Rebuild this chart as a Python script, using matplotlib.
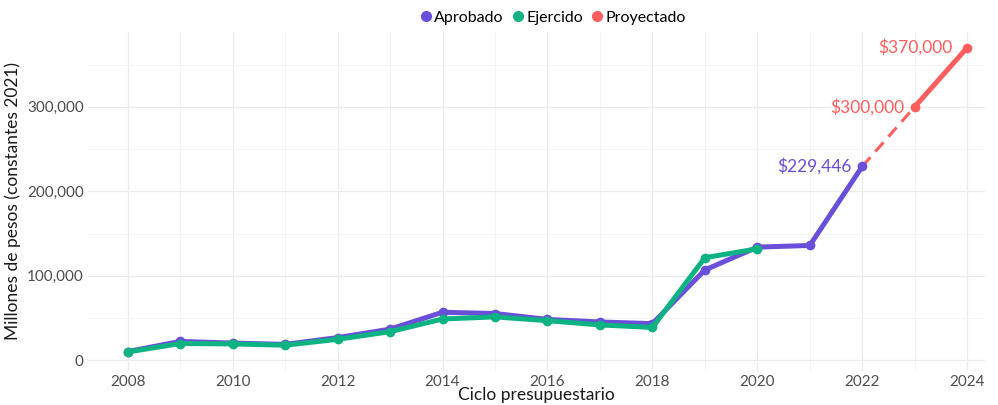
import matplotlib.pyplot as plt
from matplotlib.ticker import FuncFormatter, MultipleLocator

plt.rcParams['font.family'] = ['Lato', 'DejaVu Sans']

years = [2008, 2009, 2010, 2011, 2012, 2013, 2014, 2015, 2016, 2017, 2018, 2019, 2020, 2021, 2022]
aprobado = [10500, 22500, 20500, 19000, 27000, 37000, 57000, 55500, 48500, 45500, 43500, 107000, 134000, 136000, 229446]

ej_years = [2008, 2009, 2010, 2011, 2012, 2013, 2014, 2015, 2016, 2017, 2018, 2019, 2020]
ejercido = [10000, 20000, 19500, 18000, 25000, 34000, 49000, 51500, 47000, 42000, 39000, 121500, 132000]

proy_years = [2022, 2023, 2024]
proyectado = [229446, 300000, 370000]

c_apr = '#6A4FD9'
c_ej = '#0DB383'
c_proy = '#FF5E5E'

fig, ax = plt.subplots(figsize=(9.98, 4.05), dpi=100)
fig.subplots_adjust(left=0.088, right=0.987, top=0.92, bottom=0.085)

ax.plot(years, aprobado, color=c_apr, lw=3.6, marker='o', ms=6, solid_capstyle='round', zorder=3)
ax.plot(ej_years, ejercido, color=c_ej, lw=3.6, marker='o', ms=6, solid_capstyle='round', zorder=4)
# tramo punteado 2022-2023 y solido 2023-2024
ax.plot(proy_years[:2], proyectado[:2], color=c_proy, lw=2.2, ls=(0, (4, 2.5)), zorder=2)
ax.plot(proy_years[1:], proyectado[1:], color=c_proy, lw=3.6, marker='o', ms=6,
        solid_capstyle='round', zorder=3)

ax.text(proy_years[0] - 0.2, proyectado[0], '$229,446', color=c_apr, fontsize=12.5,
        ha='right', va='center')
ax.text(proy_years[1] - 0.2, proyectado[1], '$300,000', color=c_proy, fontsize=12.5,
        ha='right', va='center')
ax.text(proy_years[2] - 0.28, proyectado[2], '$370,000', color=c_proy, fontsize=12.5,
        ha='right', va='center')

ax.set_xlim(2007.24, 2024.34)
ax.set_ylim(-12000, 388000)
ax.xaxis.set_major_locator(MultipleLocator(2))
ax.xaxis.set_minor_locator(MultipleLocator(1))
ax.yaxis.set_major_locator(MultipleLocator(100000))
ax.yaxis.set_minor_locator(MultipleLocator(50000))
ax.yaxis.set_major_formatter(FuncFormatter(lambda v, p: f'{int(v):,}'))

ax.grid(which='major', color='#EBEBEB', lw=0.9)
ax.grid(which='minor', color='#F3F3F3', lw=0.7)
ax.set_axisbelow(True)
for s in ax.spines.values():
    s.set_visible(False)
ax.tick_params(which='both', length=0, labelsize=11, labelcolor='#4D4D4D', pad=3)

ax.set_xlabel('Ciclo presupuestario', fontsize=12.5, color='#1A1A1A', labelpad=-1)
ax.set_ylabel('Millones de pesos (constantes 2021)', fontsize=12.5, color='#1A1A1A', labelpad=4)

handles = [plt.Line2D([], [], ls='', marker='o', ms=7, color=c) for c in (c_apr, c_ej, c_proy)]
fig.legend(handles, ['Aprobado', 'Ejercido', 'Proyectado'], loc='upper center',
           bbox_to_anchor=(0.553, 1.01), ncol=3, frameon=False, fontsize=11.5,
           handletextpad=0.0, columnspacing=0.4, handlelength=1.0)

fig.savefig('out.png', dpi=100)
